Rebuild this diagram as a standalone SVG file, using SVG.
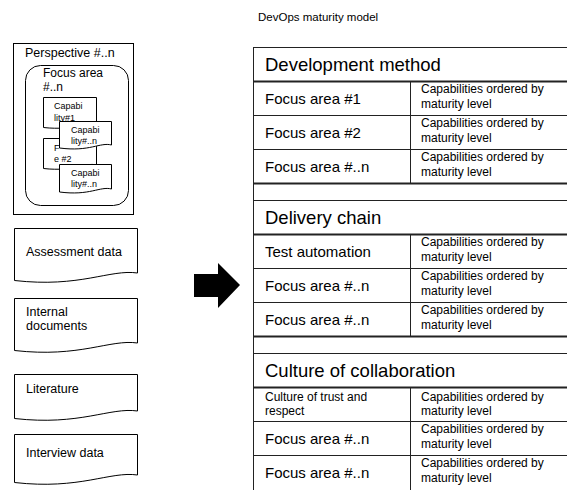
<svg xmlns="http://www.w3.org/2000/svg" width="567" height="490" viewBox="0 0 567 490">
<style>
text{font-family:"Liberation Sans",Arial,sans-serif;fill:#000}
.box{fill:#fff;stroke:#000;stroke-width:1}
.doc{fill:#fff;stroke:#000;stroke-width:1}
.t12{font-size:12.5px}
.t9{font-size:9px}
.hd{font-size:18.5px}
.fa{font-size:15px}
.cap{font-size:12px}
.ln{stroke:#222;stroke-width:1;fill:none}
.lnb{stroke:#222;stroke-width:1.8;fill:none}
</style>
<rect width="567" height="490" fill="#fff"/>
<text x="258" y="21" style="font-size:11.5px">DevOps maturity model</text>

<g id="perspective">
<rect class="box" x="13.5" y="43.5" width="120" height="171"/>
<text class="t12" x="25" y="57">Perspective #..n</text>
<rect class="box" x="25.5" y="65.5" width="103" height="140" rx="15" ry="15"/>
<text class="t12" x="43" y="77" style="font-size:12px">Focus area</text>
<text class="t12" x="43" y="91" style="font-size:12px">#..n</text>
<g id="capability-1">
<path class="doc" d="M43.5,97.5 H96.5 V124 C85,121 75,131 43.5,127.5 Z"/>
<text class="t9" x="54" y="109">Capabi</text>
<text class="t9" x="54" y="121">lity#1</text>
</g>
<g id="capability-2">
<path class="doc" d="M43.5,138.5 H96.5 V165 C85,162 75,172 43.5,168.5 Z"/>
<text class="t9" x="54" y="151">F</text>
<text class="t9" x="54" y="162">e #2</text>
</g>
<g id="capability-n1">
<path class="doc" d="M59.5,121.5 H111.5 V145 C100,142 90,152 59.5,148 Z"/>
<text class="t9" x="71" y="133">Capabi</text>
<text class="t9" x="71" y="144">lity#..n</text>
</g>
<g id="capability-n2">
<path class="doc" d="M59.5,164.5 H111.5 V189 C100,186 90,196 59.5,192 Z"/>
<text class="t9" x="71" y="176">Capabi</text>
<text class="t9" x="71" y="187">lity#..n</text>
</g>
</g>

<g id="assessment-data">
<path class="doc" d="M14.5,228.5 H137.5 V273 C110,269 80,288 14.5,280.5 Z"/>
<text class="t12" x="26" y="256">Assessment data</text>
</g>
<g id="internal-documents">
<path class="doc" d="M14.5,298.5 H137.5 V343 C110,339 80,358 14.5,350.5 Z"/>
<text class="t12" x="26" y="316">Internal</text>
<text class="t12" x="26" y="330">documents</text>
</g>
<g id="literature">
<path class="doc" d="M14.5,374.5 H137.5 V411 C110,407 80,426 14.5,418.5 Z"/>
<text class="t12" x="26" y="393">Literature</text>
</g>
<g id="interview-data">
<path class="doc" d="M14.5,434.5 H137.5 V475 C110,471 80,490 14.5,482.5 Z"/>
<text class="t12" x="26" y="457">Interview data</text>
</g>

<g id="connectors">
<path d="M194,274 H218 V263 L240,285 L218,308 V297 H194 Z" fill="#000"/>
</g>

<g id="maturity-model">
<path class="ln" d="M253.5,47.5 V490 M253,47.5 H567"/>
<g id="development-method">
<text class="hd" x="265" y="71">Development method</text>
<path class="lnb" d="M253,81.5 H567"/>
<path class="ln" d="M253,115.5 H567 M253,149.5 H567 M410.5,81 V183"/>
<path class="lnb" d="M253,183.5 H567"/>
<text class="fa" x="265" y="104">Focus area #1</text>
<text class="cap" x="421" y="93">Capabilities ordered by</text>
<text class="cap" x="421" y="108">maturity level</text>
<text class="fa" x="265" y="138">Focus area #2</text>
<text class="cap" x="421" y="127">Capabilities ordered by</text>
<text class="cap" x="421" y="142">maturity level</text>
<text class="fa" x="265" y="172">Focus area #..n</text>
<text class="cap" x="421" y="161">Capabilities ordered by</text>
<text class="cap" x="421" y="176">maturity level</text>
</g>
<g id="delivery-chain">
<path class="ln" d="M253,200.5 H567"/>
<text class="hd" x="265" y="224">Delivery chain</text>
<path class="lnb" d="M253,234.5 H567"/>
<path class="ln" d="M253,268.5 H567 M253,302.5 H567 M410.5,234 V336"/>
<path class="lnb" d="M253,336.5 H567"/>
<text class="fa" x="265" y="257">Test automation</text>
<text class="cap" x="421" y="246">Capabilities ordered by</text>
<text class="cap" x="421" y="261">maturity level</text>
<text class="fa" x="265" y="291">Focus area #..n</text>
<text class="cap" x="421" y="280">Capabilities ordered by</text>
<text class="cap" x="421" y="295">maturity level</text>
<text class="fa" x="265" y="325">Focus area #..n</text>
<text class="cap" x="421" y="314">Capabilities ordered by</text>
<text class="cap" x="421" y="329">maturity level</text>
</g>
<g id="culture-of-collaboration">
<path class="ln" d="M253,353.5 H567"/>
<text class="hd" x="265" y="377">Culture of collaboration</text>
<path class="lnb" d="M253,387.5 H567"/>
<path class="ln" d="M253,421.5 H567 M253,455.5 H567 M410.5,387 V490"/>
<text class="cap" x="265" y="401">Culture of trust and</text>
<text class="cap" x="265" y="415">respect</text>
<text class="cap" x="421" y="401">Capabilities ordered by</text>
<text class="cap" x="421" y="415">maturity level</text>
<text class="fa" x="265" y="444">Focus area #..n</text>
<text class="cap" x="421" y="433">Capabilities ordered by</text>
<text class="cap" x="421" y="448">maturity level</text>
<text class="fa" x="265" y="478">Focus area #..n</text>
<text class="cap" x="421" y="467">Capabilities ordered by</text>
<text class="cap" x="421" y="482">maturity level</text>
</g>
</g>
</svg>
